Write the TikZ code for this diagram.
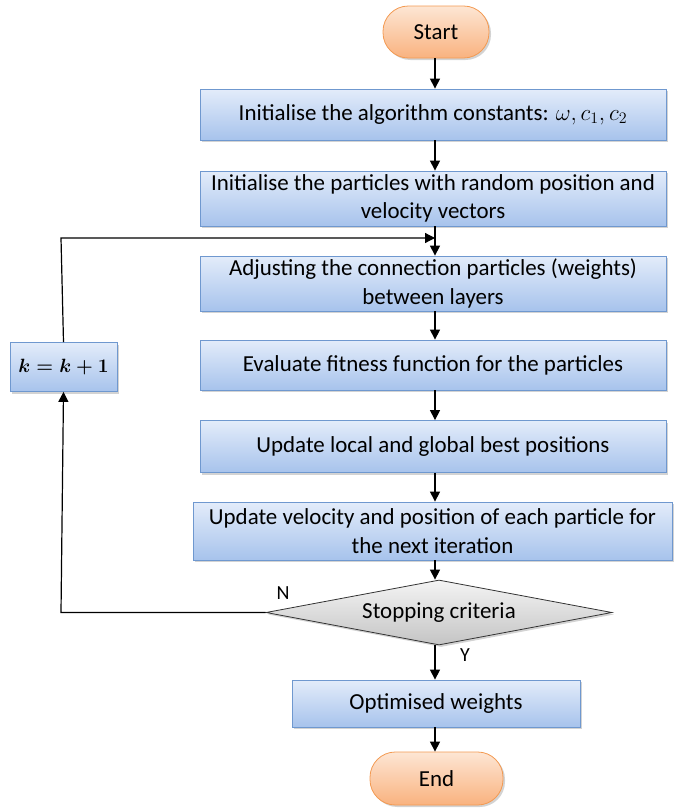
\documentclass[tikz,border=0pt]{standalone}
\usepackage{fontspec}
\setmainfont{Carlito}
\usetikzlibrary{shapes.geometric,shadows,arrows.meta}
\definecolor{bluetop}{HTML}{E3ECFA}
\definecolor{bluebot}{HTML}{A7C3EC}
\definecolor{blueline}{HTML}{6F98CF}
\definecolor{ortop}{HTML}{FDE6D4}
\definecolor{orbot}{HTML}{F9B27F}
\definecolor{orline}{HTML}{F39A52}
\definecolor{graytop}{HTML}{F4F4F4}
\definecolor{graybot}{HTML}{C4C4C4}
\tikzset{
  procbox/.style={draw=blueline, line width=0.6pt, top color=bluetop, bottom color=bluebot,
    drop shadow={shadow xshift=1.5pt, shadow yshift=-1.5pt, opacity=0.35},
    align=center, inner sep=1pt, font=\fontsize{17.2}{21.5}\selectfont},
  termbox/.style={draw=orline, line width=0.6pt, top color=ortop, bottom color=orbot,
    rounded corners=19pt,
    drop shadow={shadow xshift=1.5pt, shadow yshift=-1.5pt, opacity=0.35},
    align=center, font=\fontsize{17.2}{20}\selectfont},
  decbox/.style={diamond, aspect=5.3, draw=black!80, line width=0.6pt, top color=graytop, bottom color=graybot,
    drop shadow={shadow xshift=1.5pt, shadow yshift=-1.5pt, opacity=0.35},
    inner sep=0pt, font=\fontsize{17.2}{20}\selectfont},
  conn/.style={line width=0.9pt, -{Triangle[length=7.5pt,width=7.5pt]}},
  lbl/.style={font=\fontsize{15}{18}\selectfont}
}
\begin{document}
\begin{tikzpicture}[x=0.75pt,y=-0.75pt]
\useasboundingbox (0,0) rectangle (692,810);
\node[termbox, minimum width=79.5pt, minimum height=39pt] (start) at (436,32) {Start};
\node[procbox, minimum width=349.5pt, minimum height=38.25pt] (b1) at (433,114.5) {Initialise the algorithm constants: $\omega, c_1, c_2$};
\node[procbox, minimum width=349.5pt, minimum height=41.25pt] (b2) at (433,198.5) {Initialise the particles with random position and\\velocity vectors};
\node[procbox, minimum width=349.5pt, minimum height=41.25pt] (b3) at (433,283.5) {Adjusting the connection particles (weights)\\between layers};
\node[procbox, minimum width=349.5pt, minimum height=37.5pt] (b4) at (433,365) {Evaluate fitness function for the particles};
\node[procbox, minimum width=349.5pt, minimum height=39pt] (b5) at (433,446.5) {Update local and global best positions};
\node[procbox, minimum width=359.25pt, minimum height=43.5pt] (b6) at (432.5,531) {Update velocity and position of each particle for\\the next iteration};
\node[decbox, minimum width=259.5pt, minimum height=48.75pt] (dec) at (439,612.5) {Stopping criteria};
\node[procbox, minimum width=216pt, minimum height=35.25pt] (b7) at (436,703.5) {Optimised weights};
\node[termbox, minimum width=99.75pt, minimum height=39.75pt] (end) at (436.5,778.5) {End};
\node[procbox, minimum width=80.25pt, minimum height=36.75pt, inner sep=0pt, font=\fontsize{15.3}{19}\selectfont\boldmath] (kb) at (63.5,367) {$k=k+1$};
\coordinate (ldn) at (61,612.5);
\coordinate (lup) at (61,238);
\coordinate (join) at (435,238);

\draw[conn] (start.south -| 435,0) -- (b1.north -| 435,0);
\draw[conn] (b1.south -| 435,0) -- (b2.north -| 435,0);
\draw[conn] (b2.south -| 435,0) -- (b3.north -| 435,0);
\draw[conn] (b3.south -| 435,0) -- (b4.north -| 435,0);
\draw[conn] (b4.south -| 435,0) -- (b5.north -| 435,0);
\draw[conn] (b5.south -| 435,0) -- (b6.north -| 435,0);
\draw[conn] (b6.south -| 435,0) -- (dec.north -| 435,0);
\draw[conn] (dec.south -| 435,0) -- (b7.north -| 435,0);
\draw[conn] (b7.south -| 435,0) -- (end.north -| 435,0);
\draw[conn] (dec.west) -- (ldn) -- (kb.south);
\draw[conn] (kb.north) -- (lup) -- (join);
\node[lbl] (nl) at (283,593) {N};
\node[lbl] (yl) at (465,655) {Y};
\end{tikzpicture}
\end{document}
